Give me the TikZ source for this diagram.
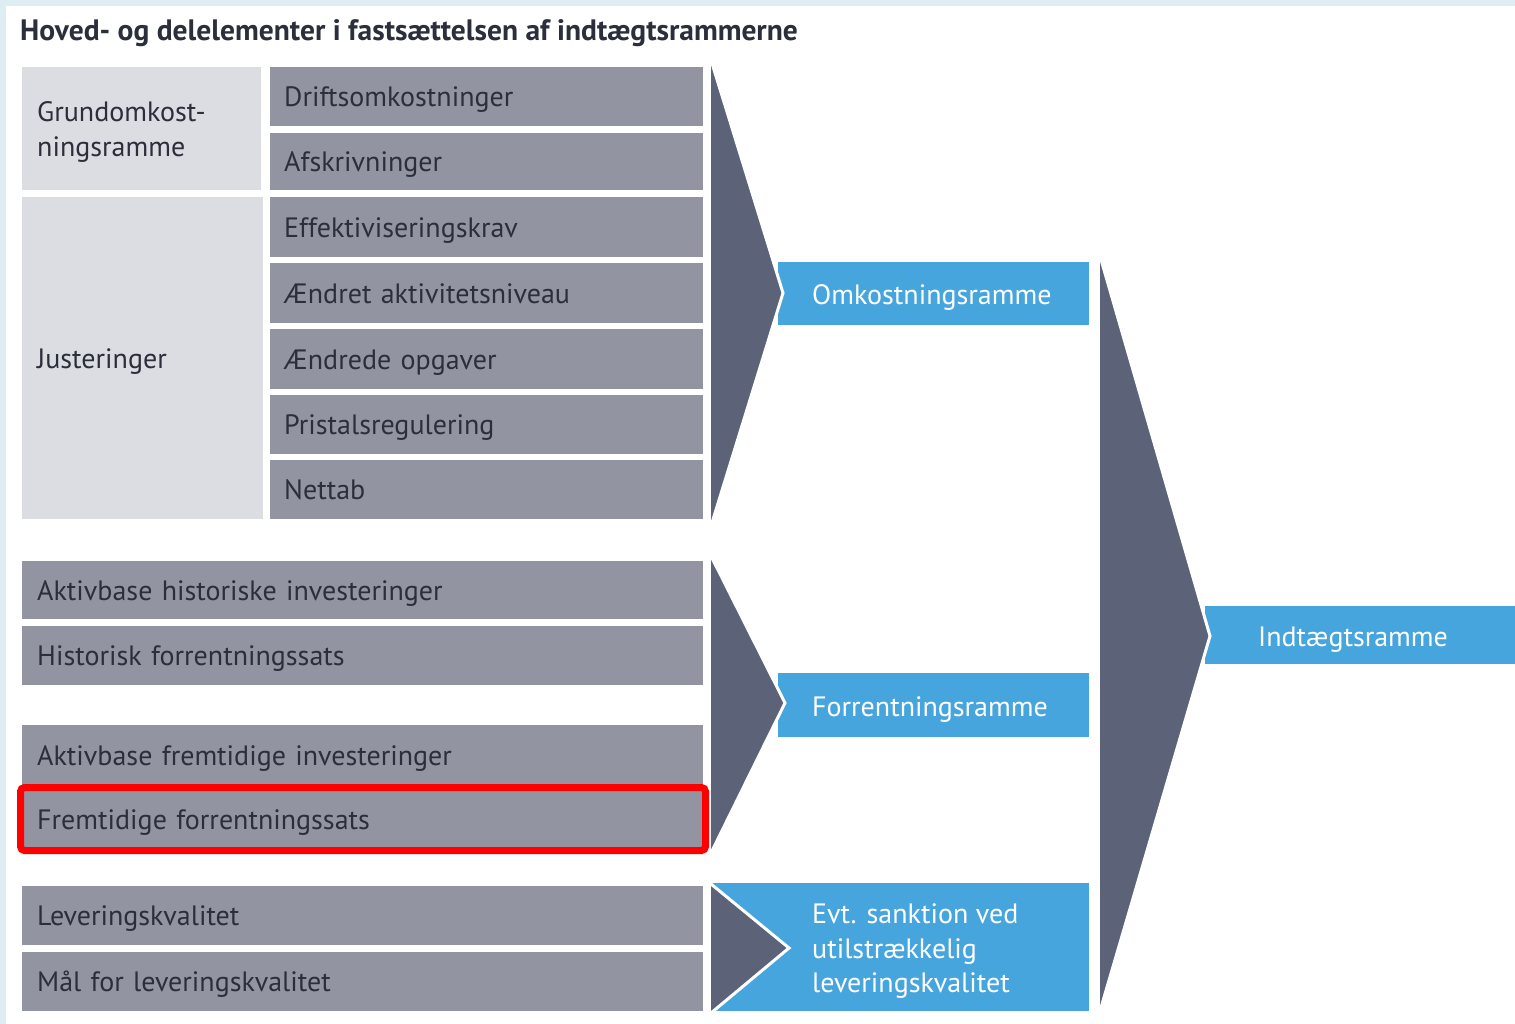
\documentclass[tikz,border=0pt]{standalone}
\usepackage{fontspec}
\setmainfont{PT Sans}
\definecolor{boxgray}{HTML}{9294A2}
\definecolor{boxlight}{HTML}{DCDDE2}
\definecolor{arrowc}{HTML}{5C6378}
\definecolor{boxblue}{HTML}{47A5DD}
\definecolor{textdark}{HTML}{2B2E3B}
\definecolor{frameblue}{HTML}{DEEDF2}
\begin{document}
\begin{tikzpicture}[x=1pt,y=-1pt,
  every node/.style={font=\fontsize{28}{34.5}\selectfont},
  cell/.style={anchor=north west, inner ysep=0pt, align=left},
  fixh/.style={text height=24pt, text depth=4pt},
  gbox/.style={cell, fixh, fill=boxgray, text=textdark, minimum height=59pt},
  lbox/.style={cell, fill=boxlight, text=textdark},
  bbox/.style={anchor=north west, fill=boxblue, inner sep=0pt},
  btext/.style={anchor=west, text=white, align=left, inner sep=0pt},
  chev/.style={fill=arrowc},
  chevedge/.style={draw=white, line width=3pt},
  hilite/.style={draw=red, line width=7pt, rounded corners=4pt}]
\useasboundingbox (0,0) rectangle (1515,1024);
\fill[white] (0,0) rectangle (1515,1024);
\fill[frameblue] (0,0) rectangle (1515,6);
\fill[frameblue] (0,0) rectangle (6,1024);

\node[anchor=west, inner sep=0pt, text=textdark, font=\bfseries\fontsize{29.5}{32}\selectfont] (title) at (20,33) {Hoved- og delelementer i fastsættelsen af indtægtsrammerne};

% left column, group 1
\node[lbox, inner xsep=15pt, text width=209pt, minimum height=123pt, text height=26pt, text depth=40pt] (grund) at (22,67) {Grundomkost-\\ningsramme};
\node[lbox, fixh, inner xsep=15pt, text width=211pt, minimum height=322pt] (just) at (22,197) {Justeringer};

\node[gbox, inner xsep=14pt, text width=405pt] (drift) at (270,67) {Driftsomkostninger};
\node[gbox, inner xsep=14pt, text width=405pt, minimum height=57pt] (afskr) at (270,133) {Afskrivninger};
\node[gbox, inner xsep=14pt, text width=405pt, minimum height=60pt] (eff) at (270,197) {Effektiviseringskrav};
\node[gbox, inner xsep=14pt, text width=405pt, minimum height=60pt] (aktiv) at (270,263) {Ændret aktivitetsniveau};
\node[gbox, inner xsep=14pt, text width=405pt, minimum height=60pt] (opg) at (270,329) {Ændrede opgaver};
\node[gbox, inner xsep=14pt, text width=405pt, minimum height=59pt] (pris) at (270,395) {Pristalsregulering};
\node[gbox, inner xsep=14pt, text width=405pt, minimum height=59pt] (net) at (270,460) {Nettab};

% group 2
\node[gbox, inner xsep=15pt, text width=651pt, minimum height=58pt] (ahist) at (22,561) {Aktivbase historiske investeringer};
\node[gbox, inner xsep=15pt, text width=651pt, minimum height=59pt] (fhist) at (22,626) {Historisk forrentningssats};
\node[gbox, inner xsep=15pt, text width=651pt, minimum height=60pt] (afrem) at (22,725) {Aktivbase fremtidige investeringer};
\node[gbox, inner xsep=15pt, text width=651pt, minimum height=57pt] (ffrem) at (22,791) {Fremtidige forrentningssats};

% group 3
\node[gbox, inner xsep=15pt, text width=651pt, minimum height=59pt] (lev) at (22,886) {Leveringskvalitet};
\node[gbox, inner xsep=15pt, text width=651pt, minimum height=59pt] (maal) at (22,952) {Mål for leveringskvalitet};

% highlight
\draw[hilite] (20.5,787.5) rectangle (705.5,850.5);

% blue result boxes
\node[bbox, minimum width=311pt, minimum height=63pt] (omk) at (778,262) {};
\node[btext, fixh] (omkt) at ([xshift=34pt,yshift=-1pt]omk.west) {Omkostningsramme};
\node[bbox, minimum width=311pt, minimum height=64pt] (forr) at (778,673) {};
\node[btext, fixh] (forrt) at ([xshift=34pt,yshift=-1pt]forr.west) {Forrentningsramme};
\node[bbox, minimum width=377pt, minimum height=128pt] (sank) at (712,883) {};
\node[btext] (sankt) at ([xshift=100pt,yshift=-4pt]sank.west) {Evt. sanktion ved\\utilstrækkelig\\leveringskvalitet};
\node[bbox, minimum width=315pt, minimum height=58pt] (indt) at (1205,606) {};
\node[btext, fixh] (indtt) at ([xshift=53pt,yshift=-1pt]indt.west) {Indtægtsramme};

% chevrons
\coordinate (a1t) at (711,60);  \coordinate (a1p) at (783,293);  \coordinate (a1b) at (711,526);
\coordinate (a2t) at (711,556); \coordinate (a2p) at (785,703);  \coordinate (a2b) at (711,853);
\coordinate (a3t) at (711,884); \coordinate (a3p) at (789,948);  \coordinate (a3b) at (711,1013);
\coordinate (a4t) at (1100,256); \coordinate (a4p) at (1210,636); \coordinate (a4b) at (1100,1011);
\fill[chev] (a1t) -- (a1p) -- (a1b) -- cycle;
\fill[chev] (a2t) -- (a2p) -- (a2b) -- cycle;
\fill[chev] (a3t) -- (a3p) -- (a3b) -- cycle;
\fill[chev] (a4t) -- (a4p) -- (a4b) -- cycle;
\draw[chevedge] (a1t) -- (a1p) -- (a1b);
\draw[chevedge] (a2t) -- (a2p) -- (a2b);
\draw[chevedge] (a3t) -- (a3p) -- (a3b);
\draw[chevedge] (a4t) -- (a4p) -- (a4b);
\end{tikzpicture}
\end{document}
